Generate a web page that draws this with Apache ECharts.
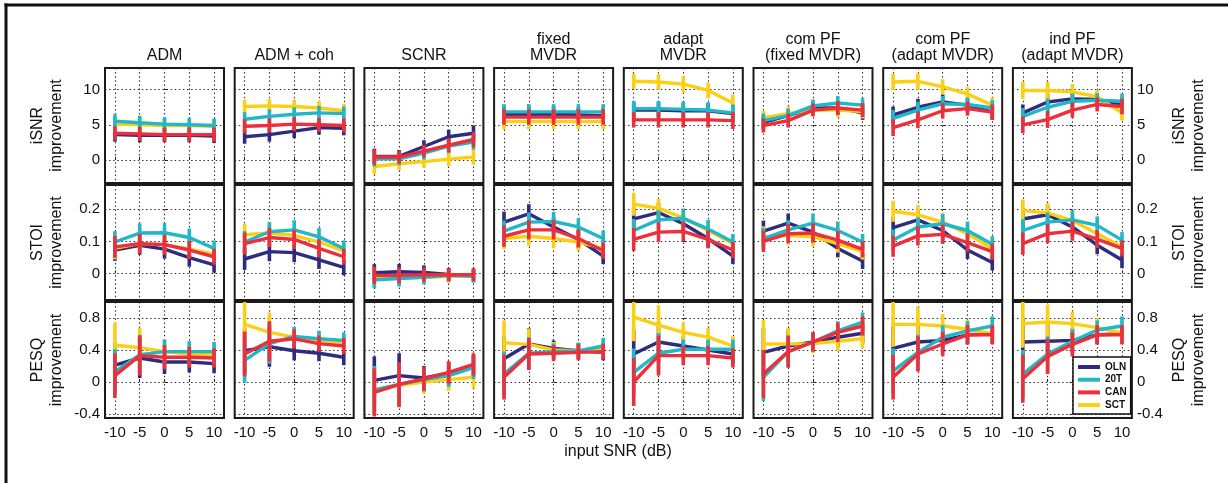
<!DOCTYPE html>
<html>
<head>
<meta charset="utf-8">
<script src="https://cdn.jsdelivr.net/npm/echarts@6/dist/echarts.min.js"></script>
<style>html,body{margin:0;padding:0;background:#fff;}#c{width:1228px;height:483px;}</style>
</head>
<body>
<div id="c"></div>
<script>
// ---------- data ----------
const SNR = [-10, -5, 0, 5, 10];
const panelTitles = ['ADM', 'ADM + coh', 'SCNR', 'fixed\nMVDR', 'adapt\nMVDR', 'com PF\n(fixed MVDR)', 'com PF\n(adapt MVDR)', 'ind PF\n(adapt MVDR)'];
const seriesNames = ['OLN', '20T', 'CAN', 'SCT'];
const rowNames = ['iSNR\nimprovement', 'STOI\nimprovement', 'PESQ\nimprovement'];
const xTitle = 'input SNR (dB)';
const isnrTicks = [0, 5, 10];
const stoiTicks = [0, 0.1, 0.2];
const pesqTicks = [-0.4, 0, 0.4, 0.8];

// iSNR improvement, one row of 5 values (input SNR -10..10) per panel
const isnrOLN = [[3.6,3.5,3.5,3.5,3.4],[3.3,3.6,4.1,4.6,4.5],[0.5,0.5,1.9,3.3,3.8],[6.5,6.5,6.5,6.4,6.3],[7.1,7.1,7.0,7.0,6.6],[5.35,6.3,7.4,7.4,6.7],[6.4,7.5,8.25,7.8,6.8],[6.7,8.25,8.7,8.6,7.8]];
const isnr20T = [[5.5,5.3,5.1,5.0,4.9],[5.8,6.2,6.5,6.7,6.6],[0.15,0.15,0.95,1.95,2.55],[6.85,6.85,6.85,6.85,6.85],[7.3,7.3,7.2,7.1,6.7],[5.6,6.3,7.7,8.1,7.8],[5.9,7.1,8.0,7.9,7.4],[6.2,7.5,8.35,8.5,8.35]];
const isnrCAN = [[3.8,3.7,3.6,3.6,3.6],[4.8,4.9,5.1,5.0,4.9],[0.4,0.4,1.25,2.1,2.9],[6.1,6.1,6.1,6.1,6.1],[5.7,5.7,5.7,5.7,5.6],[4.9,5.6,7.1,7.4,7.1],[4.6,5.7,7.0,7.3,6.8],[5.0,5.75,7.1,7.9,7.6]];
const isnrSCT = [[5.1,5.0,4.9,4.9,4.8],[7.6,7.7,7.6,7.4,7.0],[-0.95,-0.55,-0.25,0.1,0.4],[5.45,5.45,5.45,5.45,5.45],[11.2,11.1,10.8,9.9,8.1],[6.0,6.6,7.1,7.1,6.9],[11.1,11.2,10.4,9.4,7.8],[9.9,9.9,9.7,9.0,6.7]];
const isnrErr = [[1.0,1.0,1.0,1.0,1.0],[1.0,1.0,1.0,1.0,1.0],[1.1,0.9,0.9,1.0,1.1],[1.1,1.1,1.1,1.1,1.1],[1.1,1.1,1.1,1.1,1.2],[1.0,1.0,0.9,1.0,1.0],[1.2,1.2,1.1,1.0,1.1],[1.2,1.2,1.1,1.0,1.1]];

// STOI improvement
const stoiOLN = [[0.073,0.088,0.076,0.049,0.027],[0.045,0.068,0.065,0.042,0.019],[0.002,0.005,0.003,-0.003,-0.005],[0.16,0.186,0.145,0.106,0.054],[0.17,0.19,0.155,0.109,0.054],[0.132,0.157,0.129,0.078,0.039],[0.143,0.167,0.134,0.073,0.034],[0.17,0.183,0.145,0.088,0.042]];
const stoi20T = [[0.098,0.126,0.127,0.112,0.078],[0.098,0.13,0.136,0.114,0.078],[-0.02,-0.016,-0.012,-0.006,-0.009],[0.132,0.16,0.162,0.145,0.109],[0.134,0.167,0.172,0.139,0.098],[0.109,0.136,0.157,0.134,0.098],[0.104,0.145,0.155,0.134,0.091],[0.134,0.16,0.167,0.15,0.104]];
const stoiCAN = [[0.083,0.093,0.09,0.073,0.052],[0.093,0.112,0.106,0.078,0.052],[-0.006,-0.006,-0.004,-0.004,-0.004],[0.116,0.136,0.136,0.109,0.071],[0.106,0.129,0.131,0.106,0.073],[0.1,0.124,0.126,0.104,0.075],[0.085,0.117,0.122,0.096,0.068],[0.093,0.124,0.132,0.107,0.078]];
const stoiSCT = [[0.078,0.093,0.09,0.076,0.06],[0.121,0.126,0.119,0.098,0.07],[-0.016,-0.014,-0.012,-0.009,-0.007],[0.109,0.116,0.109,0.098,0.078],[0.216,0.204,0.173,0.134,0.093],[0.114,0.119,0.114,0.093,0.068],[0.194,0.183,0.16,0.124,0.078],[0.196,0.189,0.165,0.124,0.083]];
const stoiErr = [[0.034,0.03,0.03,0.028,0.025],[0.034,0.03,0.03,0.028,0.025],[0.027,0.025,0.022,0.02,0.02],[0.033,0.03,0.03,0.028,0.025],[0.036,0.03,0.03,0.028,0.025],[0.033,0.03,0.03,0.028,0.025],[0.033,0.03,0.03,0.028,0.025],[0.035,0.03,0.03,0.028,0.025]];

// PESQ improvement
const pesqOLN = [[0.21,0.3,0.25,0.25,0.23],[0.39,0.44,0.39,0.36,0.31],[0.02,0.08,0.05,0.11,0.2],[0.29,0.475,0.42,0.39,0.37],[0.35,0.5,0.45,0.4,0.35],[0.37,0.45,0.5,0.56,0.61],[0.42,0.5,0.52,0.59,0.6],[0.5,0.51,0.52,0.59,0.6]];
const pesq20T = [[0.13,0.34,0.38,0.38,0.38],[0.27,0.48,0.57,0.54,0.52],[-0.1,-0.03,0.03,0.08,0.18],[0.1,0.36,0.38,0.39,0.45],[0.12,0.36,0.41,0.41,0.41],[0.06,0.38,0.5,0.64,0.75],[0.14,0.37,0.56,0.64,0.7],[0.1,0.35,0.51,0.65,0.7]];
const pesqCAN = [[0.08,0.33,0.31,0.31,0.3],[0.35,0.51,0.54,0.48,0.45],[-0.13,-0.03,0.04,0.12,0.22],[0.06,0.35,0.36,0.37,0.38],[0.0,0.33,0.33,0.33,0.3],[0.1,0.38,0.5,0.62,0.7],[0.06,0.35,0.475,0.59,0.59],[0.04,0.32,0.47,0.59,0.59]];
const pesqSCT = [[0.46,0.43,0.38,0.35,0.34],[0.72,0.62,0.56,0.52,0.49],[-0.1,-0.04,0.0,0.03,0.06],[0.49,0.47,0.4,0.39,0.41],[0.81,0.71,0.62,0.56,0.45],[0.475,0.475,0.48,0.51,0.54],[0.72,0.72,0.7,0.66,0.6],[0.73,0.75,0.73,0.68,0.61]];
const pesqErr = [[0.28,0.25,0.15,0.13,0.12],[0.28,0.25,0.12,0.1,0.1],[0.3,0.28,0.15,0.14,0.14],[0.28,0.2,0.1,0.1,0.1],[0.3,0.25,0.12,0.12,0.12],[0.3,0.2,0.12,0.12,0.12],[0.28,0.22,0.15,0.12,0.12],[0.3,0.22,0.15,0.12,0.12]];

// ---------- styling / layout ----------
const COLORS = { 'OLN': '#2e2c7e', '20T': '#22b7c7', 'CAN': '#ec2f3b', 'SCT': '#fbcf14' };
const DRAW_ORDER = ['OLN', 'SCT', '20T', 'CAN'];
const FONT = '"Liberation Sans", Arial, Helvetica, sans-serif';
const rows = [
  { data: { 'OLN': isnrOLN, '20T': isnr20T, 'CAN': isnrCAN, 'SCT': isnrSCT }, err: isnrErr, ticks: isnrTicks, min: -3.3, max: 13.1, top: 68, height: 115 },
  { data: { 'OLN': stoiOLN, '20T': stoi20T, 'CAN': stoiCAN, 'SCT': stoiSCT }, err: stoiErr, ticks: stoiTicks, min: -0.083, max: 0.276, top: 185, height: 115 },
  { data: { 'OLN': pesqOLN, '20T': pesq20T, 'CAN': pesqCAN, 'SCT': pesqSCT }, err: pesqErr, ticks: pesqTicks, min: -0.45, max: 1.0, top: 302, height: 116 }
];
const LEFT0 = 105, PITCH = 129.7, PW = 119;
const dotted = { type: [1.5, 2.6], color: '#333', width: 1.1 };

const grid = [], xAxis = [], yAxis = [], series = [];
rows.forEach((row, r) => {
  panelTitles.forEach((t, c) => {
    const idx = r * panelTitles.length + c;
    grid.push({ left: LEFT0 + c * PITCH, top: row.top, width: PW, height: row.height, show: true,
      borderColor: '#1a1a1a', borderWidth: 2, backgroundColor: 'transparent' });
    xAxis.push({ gridIndex: idx, type: 'value', min: -12, max: 12,
      axisLine: { show: false },
      axisTick: { show: true, inside: true, length: 3, customValues: SNR, lineStyle: { color: '#222' } },
      axisLabel: { show: r === 2, customValues: SNR, fontSize: 15, margin: 7, color: '#111', fontFamily: FONT },
      splitLine: { show: true, lineStyle: dotted } });
    yAxis.push({ gridIndex: idx, type: 'value', min: row.min, max: row.max,
      position: c === panelTitles.length - 1 ? 'right' : 'left',
      axisLine: { show: false },
      axisTick: { show: true, inside: true, length: 3, customValues: row.ticks, lineStyle: { color: '#222' } },
      axisLabel: { show: c === 0 || c === panelTitles.length - 1, customValues: row.ticks, fontSize: 15, margin: 5, color: '#111', fontFamily: FONT },
      splitLine: { show: true, lineStyle: dotted } });
    DRAW_ORDER.forEach((name, k) => {
      const vals = row.data[name][c];
      const errs = row.err[c];
      const color = COLORS[name];
      series.push({
        name: name + ' error', type: 'custom', xAxisIndex: idx, yAxisIndex: idx, z: 3 + k * 2,
        data: SNR.map((x, i) => [x, vals[i] - errs[i], vals[i] + errs[i]]),
        encode: { x: 0, y: [1, 2] },
        renderItem: (params, api) => {
          const cs = params.coordSys;
          const p1 = api.coord([api.value(0), api.value(1)]);
          const p2 = api.coord([api.value(0), api.value(2)]);
          const clampY = y => Math.max(cs.y, Math.min(cs.y + cs.height, y));
          return { type: 'line', shape: { x1: p1[0], y1: clampY(p1[1]), x2: p2[0], y2: clampY(p2[1]) },
            style: { stroke: color, lineWidth: 3.6 } };
        },
        silent: true
      });
      series.push({
        name: name, type: 'line', xAxisIndex: idx, yAxisIndex: idx, z: 4 + k * 2,
        data: SNR.map((x, i) => [x, vals[i]]),
        symbol: 'none', clip: true,
        itemStyle: { color: color },
        lineStyle: { color: color, width: 3.4 },
        silent: true
      });
    });
  });
});

const graphic = [];
// outer frame (top and left edges visible)
graphic.push({ type: 'line', shape: { x1: 4.5, y1: 5, x2: 1228, y2: 5 }, style: { stroke: '#111', lineWidth: 3 } });
graphic.push({ type: 'line', shape: { x1: 6, y1: 3.5, x2: 6, y2: 483 }, style: { stroke: '#111', lineWidth: 3 } });
// panel titles
panelTitles.forEach((t, c) => {
  graphic.push({ type: 'text', x: LEFT0 + c * PITCH + PW / 2, y: 64,
    style: { text: t, font: '16px ' + FONT, fill: '#111', textAlign: 'center', textVerticalAlign: 'bottom', lineHeight: 16.5 } });
});
// row names (left and right)
rows.forEach((row, r) => {
  const cy = row.top + row.height / 2;
  [47, 1189].forEach(cx => {
    graphic.push({ type: 'text', x: cx, y: cy, rotation: Math.PI / 2,
      style: { text: rowNames[r], font: '16px ' + FONT, fill: '#111', textAlign: 'center', textVerticalAlign: 'middle', lineHeight: 19 } });
  });
});
// x title
graphic.push({ type: 'text', x: 618, y: 452,
  style: { text: xTitle, font: '16px ' + FONT, fill: '#111', textAlign: 'center', textVerticalAlign: 'middle' } });

const chart = echarts.init(document.getElementById('c'), null, { renderer: 'canvas' });
chart.setOption({
  animation: false,
  backgroundColor: '#fff',
  grid, xAxis, yAxis, series, graphic,
  legend: {
    data: seriesNames, orient: 'vertical', left: 1073, top: 357, z: 20,
    icon: 'rect', itemWidth: 22, itemHeight: 4, itemGap: 0.7,
    padding: [4, 4, 3, 5], borderColor: '#111', borderWidth: 1.5, backgroundColor: '#fff',
    selectedMode: false,
    textStyle: { fontSize: 10, fontWeight: 'bold', color: '#111', fontFamily: FONT, lineHeight: 12 }
  }
});
</script>
</body>
</html>
